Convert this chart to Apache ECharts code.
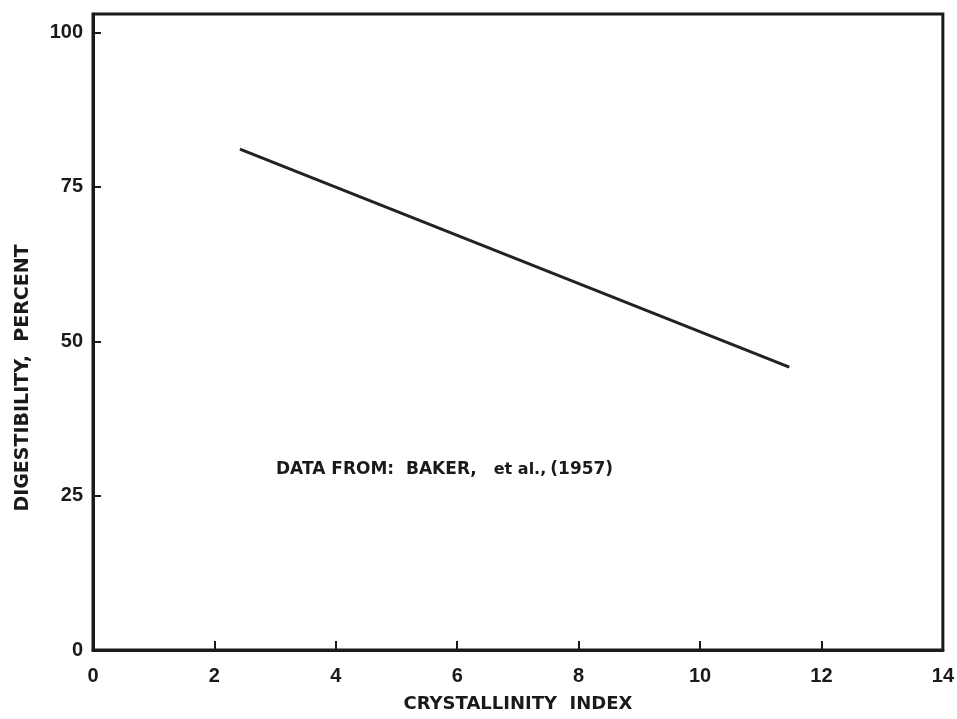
<!DOCTYPE html>
<html>
<head>
<meta charset="utf-8">
<script src="https://cdn.jsdelivr.net/npm/echarts@6/dist/echarts.min.js"></script>
<style>html,body{margin:0;padding:0;background:#fff}#c{width:957px;height:719px}</style>
</head>
<body>
<div id="c"></div>
<script>
const xTicks = [0, 2, 4, 6, 8, 10, 12, 14];
const yTicks = [0, 25, 50, 75, 100];
const lineX = [2.42, 11.47];
const lineY = [81.1, 45.8];
const xTitle = 'CRYSTALLINITY  INDEX';
const yTitle = 'DIGESTIBILITY,  PERCENT';
const noteMain = 'DATA FROM:  BAKER,';
const noteEtAl = 'et al.,';
const noteYear = '(1957)';

const chart = echarts.init(document.getElementById('c'));
const tickFont = 'Liberation Sans, Arial, sans-serif';
const titleFont = 'DejaVu Sans, Verdana, sans-serif';
const ink = '#1a1a1a';
chart.setOption({
  backgroundColor: '#fff',
  animation: false,
  grid: { left: 93, right: 13, top: 14, bottom: 69, show: true, borderColor: ink, borderWidth: 3 },
  xAxis: {
    type: 'value', min: 0, max: 14, interval: 2,
    name: xTitle, nameLocation: 'middle', nameGap: 45,
    nameTextStyle: { color: ink, fontSize: 18, fontFamily: titleFont, fontWeight: 'bold' },
    axisLine: { show: true, lineStyle: { color: ink, width: 3 } },
    axisTick: { show: true, inside: true, length: 9, lineStyle: { color: ink, width: 2 } },
    axisLabel: { color: ink, fontSize: 20, fontFamily: tickFont, fontWeight: 'bold', margin: 16,
      formatter: v => xTicks.includes(v) ? String(v) : '' },
    splitLine: { show: false }
  },
  yAxis: {
    type: 'value', min: 0, max: 103, interval: 25,
    axisLine: { show: true, lineStyle: { color: ink, width: 3 } },
    axisTick: { show: true, inside: true, length: 8, lineStyle: { color: ink, width: 2 } },
    axisLabel: { color: ink, fontSize: 20, fontFamily: tickFont, fontWeight: 'bold', margin: 10, showMaxLabel: false,
      formatter: v => yTicks.includes(v) ? String(v) : '' },
    splitLine: { show: false }
  },
  graphic: [{
    type: 'text', x: 23, y: 378, rotation: Math.PI / 2,
    style: {
      text: yTitle, fill: ink, fontSize: 19, fontWeight: 'bold', fontFamily: titleFont,
      textAlign: 'center', textVerticalAlign: 'middle'
    }
  }, {
    type: 'text', x: 276, y: 470,
    style: {
      text: '{a|' + noteMain + '}{s| }{b|' + noteEtAl + '}{a|' + noteYear + '}',
      textVerticalAlign: 'middle',
      rich: {
        a: { fontSize: 17, fontWeight: 'bold', fontFamily: titleFont, fill: ink },
        s: { fontSize: 17, fontFamily: titleFont, width: 17 },
        b: { fontSize: 16, fontWeight: 'bold', fontFamily: titleFont, fill: ink, padding: [0, 4, 0, 0] }
      }
    }
  }],
  series: [{
    type: 'line',
    data: lineX.map((x, i) => [x, lineY[i]]),
    symbol: 'none',
    lineStyle: { color: '#222', width: 3 }
  }]
});
</script>
</body>
</html>
